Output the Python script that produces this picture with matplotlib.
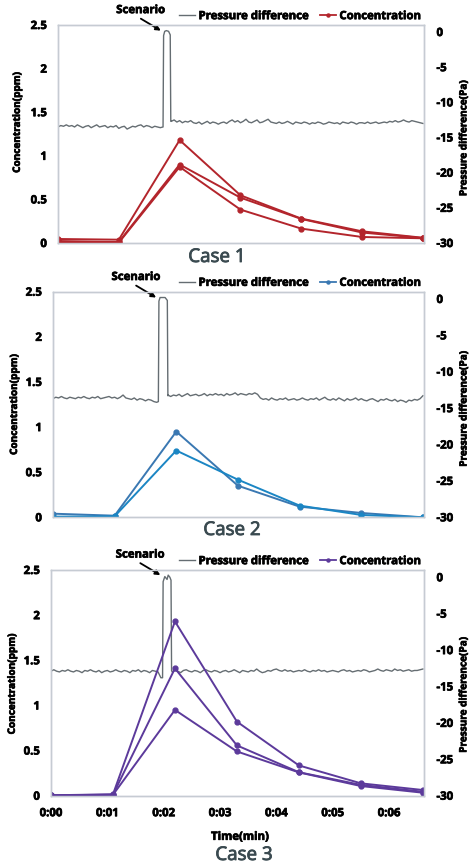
import numpy as np
import matplotlib
matplotlib.use("Agg")
import matplotlib.pyplot as plt
from matplotlib.lines import Line2D
import matplotlib.patheffects as pe

plt.rcParams['font.family'] = ['Open Sans', 'DejaVu Sans']
plt.rcParams['axes.unicode_minus'] = False

# ---------------- data ----------------
conc_time = [0.0, 1.1, 2.2, 3.3, 4.4, 5.5, 6.6]   # minutes

case1_conc = [
    [0.046, 0.038, 1.18, 0.547, 0.280, 0.134, 0.060],
    [0.023, 0.011, 0.90, 0.520, 0.276, 0.120, 0.057],
    [0.008, 0.004, 0.873, 0.383, 0.165, 0.069, 0.054],
]
case2_conc = [
    [0.040, 0.018, 0.95, 0.350, 0.118, 0.048, 0.000],
    [0.007, 0.011, 0.74, 0.417, 0.130, 0.026, 0.000],
]
case3_conc = [
    [0.005, 0.015, 1.93, 0.82, 0.335, 0.137, 0.063],
    [0.004, 0.012, 1.41, 0.557, 0.260, 0.120, 0.044],
    [0.003, 0.010, 0.95, 0.490, 0.258, 0.107, 0.033],
]

# pressure difference (Pa), sampled every 0.05 min from 0.00 to 6.60
press_step = 0.05
case1_press = [
    -13.5, -13.3, -13.4, -13.2, -13.4, -13.3, -13.5, -13.2, -13.4, -13.6,
    -13.4, -13.3, -13.6, -13.4, -13.2, -13.5, -13.4, -13.3, -13.6, -13.4,
    -13.5, -13.3, -13.7, -13.5, -13.4, -13.8, -13.6, -13.4, -13.5, -13.3,
    -13.2, -13.5, -13.3, -13.4, -13.6, -13.4, -13.5, -13.6, -13.5, -13.4,
    -13.0, -12.7, -12.5, -12.8, -12.6, -12.9, -12.7, -12.8, -12.6, -12.9,
    -13.0, -12.8, -13.1, -12.9, -12.7, -13.0, -12.8, -12.9, -13.1, -12.9,
    -12.8, -13.0, -12.7, -12.5, -12.8, -12.6, -12.9, -12.7, -12.4, -12.8,
    -12.9, -12.7, -12.5, -12.9, -12.8, -12.6, -12.4, -12.8, -12.9, -13.0,
    -12.8, -13.0, -12.9, -12.7, -12.9, -13.1, -12.8, -12.9, -13.0, -12.8,
    -12.9, -13.1, -12.9, -13.0, -12.8, -12.9, -13.1, -13.0, -12.8, -12.9,
    -13.0, -12.9, -13.1, -12.8, -12.9, -13.0, -12.8, -12.9, -13.1, -12.9,
    -12.9, -13.0, -12.8, -13.0, -12.9, -12.8, -13.0, -12.9, -12.8, -12.9,
    -12.7, -12.8, -12.6, -12.8, -12.7, -12.5, -12.7, -12.8, -12.6, -12.7,
    -12.8, -12.9, -13.0,
]
case2_press = [
    -13.7, -13.5, -13.6, -13.4, -13.6, -13.7, -13.5, -13.6, -13.7, -13.5,
    -13.6, -13.4, -13.6, -13.7, -13.5, -13.6, -13.4, -13.7, -13.6, -13.5,
    -13.4, -13.6, -13.5, -13.7, -13.5, -13.2, -13.6, -13.7, -13.8, -13.6,
    -13.9, -13.7, -13.8, -14.0, -13.8, -13.9, -14.1, -14.2, -13.9, -13.8,
    -13.6, -13.2, -13.4, -13.2, -13.3, -13.1, -13.4, -13.2, -13.0, -13.3,
    -13.2, -13.1, -13.3, -13.2, -13.0, -13.3, -13.1, -13.2, -13.0, -13.2,
    -13.1, -13.3, -13.0, -13.2, -13.1, -12.9, -13.2, -13.0, -13.1, -13.2,
    -13.0, -13.1, -12.9, -13.1, -13.6, -13.8, -13.7, -13.9, -13.6, -13.8,
    -13.9, -13.7, -13.8, -13.6, -13.9, -13.8, -13.7, -13.9, -13.8, -13.6,
    -13.8, -13.9, -13.7, -13.8, -13.6, -13.9, -13.7, -13.5, -13.8, -13.9,
    -13.7, -13.9, -13.6, -13.8, -14.0, -13.7, -13.9, -13.8, -13.6, -13.9,
    -13.7, -13.9, -14.0, -13.8, -13.7, -13.9, -14.1, -13.8, -13.9, -13.7,
    -13.9, -14.0, -13.8, -14.1, -13.9, -14.0, -14.2, -13.9, -14.0, -13.8,
    -13.9, -13.7, -13.3,
]
case3_press = [
    -12.9, -12.7, -12.9, -13.0, -12.8, -12.9, -12.7, -12.9, -13.0, -12.8,
    -12.9, -13.1, -12.8, -12.9, -12.7, -12.9, -13.0, -12.8, -13.1, -12.9,
    -12.8, -13.0, -12.9, -12.7, -12.9, -13.0, -12.8, -12.9, -13.1, -12.8,
    -12.9, -12.7, -13.0, -12.8, -12.9, -13.1, -12.8, -12.9, -13.0, -13.8,
    -12.9, -12.8, -12.7, -13.0, -12.8, -12.9, -13.1, -12.8, -12.7, -12.9,
    -13.0, -12.8, -12.9, -13.1, -12.8, -12.7, -12.9, -13.0, -12.8, -12.9,
    -13.1, -12.9, -12.8, -13.0, -12.9, -12.7, -12.9, -13.1, -12.8, -12.9,
    -13.0, -12.8, -12.9, -12.6, -12.9, -13.1, -13.0, -12.8, -12.9, -12.7,
    -12.6, -12.8, -12.9, -12.7, -12.9, -12.8, -13.0, -12.9, -12.8, -12.9,
    -12.7, -12.9, -13.0, -12.8, -12.9, -12.7, -12.9, -12.8, -13.0, -12.9,
    -12.8, -12.9, -13.0, -12.8, -12.7, -12.9, -12.8, -13.0, -12.9, -12.8,
    -12.9, -12.7, -12.8, -13.0, -12.9, -12.8, -12.6, -12.8, -12.9, -12.7,
    -12.8, -12.9, -12.6, -12.8, -12.7, -12.9, -12.8, -12.7, -12.9, -12.8,
    -12.8, -12.7, -12.6,
]

# the "scenario" pressure spikes (time in min, pressure in Pa)
case1_spike_t = [1.90, 1.91, 1.93, 1.96, 2.00, 2.03, 2.04]
case1_spike_p = [-13.5, -0.5, 0.1, 0.2, 0.1, -0.4, -12.7]
case2_spike_t = [1.88, 1.89, 1.91, 1.95, 2.00, 2.04, 2.05]
case2_spike_p = [-14.1, -0.3, 0.2, 0.2, 0.2, -0.2, -13.3]
case3_spike_t = [1.98, 1.99, 2.02, 2.06, 2.08, 2.11, 2.13, 2.14]
case3_spike_p = [-13.8, -0.6, 0.1, -0.3, 0.3, 0.0, -0.4, -12.8]

conc_ticks = [0, 0.5, 1, 1.5, 2, 2.5]
conc_ticklabels = ['0', '0.5', '1', '1.5', '2', '2.5']
press_ticks = [0, -5, -10, -15, -20, -25, -30]
press_ticklabels = ['0', '-5', '-10', '-15', '-20', '-25', '-30']
time_ticks = [0, 1, 2, 3, 4, 5, 6]
time_ticklabels = ['0:00', '0:01', '0:02', '0:03', '0:04', '0:05', '0:06']
case_titles = ['Case 1', 'Case 2', 'Case 3']

# ---------------- style ----------------
W, H = 473, 864
fig = plt.figure(figsize=(W / 100, H / 100), dpi=100)

PRESS_COLOR = '#656d72'
FRAME_COLOR = '#c6cbd3'
CASE_COLOR = '#3a4a50'
FS = 8.2
BOLD = [pe.withStroke(linewidth=0.5, foreground='black')]
TXT = dict(fontweight='bold', path_effects=BOLD)

panels = [
    dict(box=(58, 25, 424, 243), conc=case1_conc, colors=['#b3252c', '#b3252c', '#b3252c'],
         press=case1_press, st=case1_spike_t, sp=case1_spike_p,
         ylab_l=(-0.096, 0.553), ylab_r=(1.094, 0.48),
         title_xy=(217, 257), xt=False),
    dict(box=(53, 291.7, 424, 517.3), conc=case2_conc, colors=['#3a78b2', '#1b86c4'],
         press=case2_press, st=case2_spike_t, sp=case2_spike_p,
         ylab_l=(-0.089, 0.5), ylab_r=(1.093, 0.48),
         title_xy=(232, 530), xt=False),
    dict(box=(51, 570, 424, 795.7), conc=case3_conc, colors=['#5c3a9b', '#5c3a9b', '#5c3a9b'],
         press=case3_press, st=case3_spike_t, sp=case3_spike_p,
         ylab_l=(-0.089, 0.495), ylab_r=(1.092, 0.446),
         title_xy=(244, 855), xt=True),
]

for i, p in enumerate(panels):
    x0, y0, x1, y1 = p['box']
    ax = fig.add_axes([x0 / W, 1 - y1 / H, (x1 - x0) / W, (y1 - y0) / H])
    ax2 = ax.twinx()

    # pressure difference on secondary axis
    t_base = np.arange(len(p['press'])) * press_step
    pb = np.array(p['press'])
    keep = (t_base < p['st'][0]) | (t_base > p['st'][-1])
    t_all = np.concatenate([t_base[keep], p['st']])
    p_all = np.concatenate([pb[keep], p['sp']])
    order = np.argsort(t_all, kind='stable')
    ax2.plot(t_all[order], p_all[order], color=PRESS_COLOR, lw=1.0)
    ax2.set_ylim(-30, 1.0)
    ax2.set_yticks(press_ticks)
    ax2.set_yticklabels(press_ticklabels, fontsize=FS, **TXT)
    ax2.tick_params(axis='y', length=0, pad=9)
    ax2.set_ylabel('Pressure difference(Pa)', fontsize=7.2, **TXT)
    ax2.yaxis.set_label_coords(*p['ylab_r'])

    # concentration on primary axis
    for vals, c in zip(p['conc'], p['colors']):
        ax.plot(conc_time, vals, color=c, lw=1.4, marker='o', ms=3.5)
    ax.set_ylim(0, 2.5)
    ax.set_xlim(0, 6.62)
    ax.set_yticks(conc_ticks)
    ax.set_yticklabels(conc_ticklabels, fontsize=FS, **TXT)
    ax.tick_params(axis='y', length=0, pad=8)
    ax.set_ylabel('Concentration(ppm)', fontsize=7.2, **TXT)
    ax.yaxis.set_label_coords(*p['ylab_l'])
    ax.set_xticks(time_ticks)
    if p['xt']:
        ax.set_xticklabels(time_ticklabels, fontsize=FS, **TXT)
        ax.tick_params(axis='x', length=0, pad=9)
        ax.set_xlabel('Time(min)', fontsize=FS, **TXT)
        ax.xaxis.set_label_coords(0.507, -0.16)
    else:
        ax.set_xticklabels([])
        ax.tick_params(axis='x', length=0)

    ax.set_zorder(ax2.get_zorder() + 1)
    ax.patch.set_visible(False)
    for a in (ax, ax2):
        for s in a.spines.values():
            s.set_color(FRAME_COLOR)
            s.set_linewidth(1.0)

    # scenario annotation: arrow to the left shoulder of the spike, label above it
    head = (p['st'][1] - 0.05, max(p['sp']))
    ax2.annotate('', xy=head, xytext=(-14.4, 8.6), textcoords='offset points',
                 arrowprops=dict(arrowstyle='-|>', color='black', lw=1.3,
                                 mutation_scale=7, shrinkA=0, shrinkB=0),
                 annotation_clip=False)
    ax2.annotate('Scenario', xy=head, xytext=(-14.5, 14.4), textcoords='offset points',
                 ha='center', va='center', fontsize=FS, annotation_clip=False, **TXT)

    # legend
    handles = [Line2D([], [], color=PRESS_COLOR, lw=1.0),
               Line2D([], [], color=p['colors'][0], lw=1.3, marker='o', ms=2.2)]
    leg = ax.legend(handles, ['Pressure difference', 'Concentration'], loc='lower right',
                    bbox_to_anchor=(1.0, 1.0), ncol=2, frameon=False, borderaxespad=0,
                    borderpad=0.25, handlelength=1.4, handletextpad=0.3, columnspacing=1.0,
                    prop=dict(size=FS, weight='bold'))
    for t in leg.get_texts():
        t.set_path_effects(BOLD)

    fig.text(p['title_xy'][0] / W, 1 - p['title_xy'][1] / H, case_titles[i],
             ha='center', va='center', fontsize=13.5, color=CASE_COLOR,
             fontweight='normal',
             path_effects=[pe.withStroke(linewidth=0.6, foreground=CASE_COLOR)])

fig.savefig('out.png', dpi=100)
